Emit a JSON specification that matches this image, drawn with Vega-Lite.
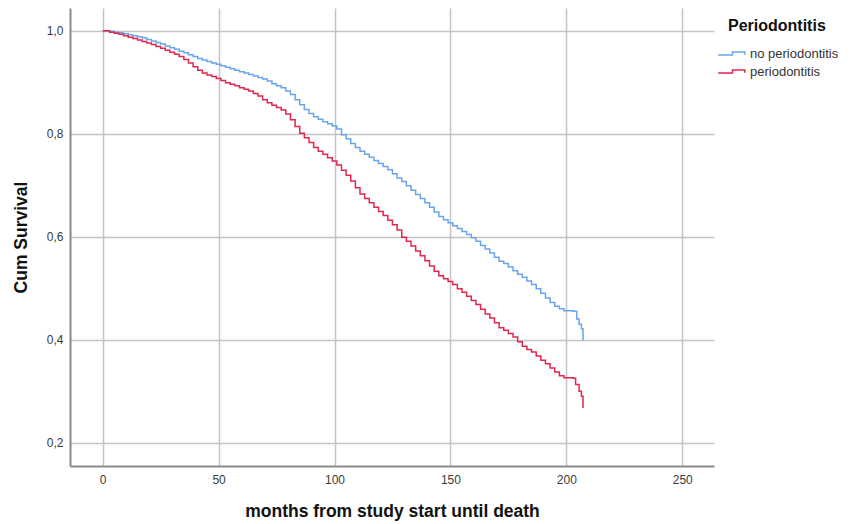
{
  "$schema": "https://vega.github.io/schema/vega-lite/v6.json",
  "width": 644,
  "height": 458,
  "autosize": "none",
  "padding": {"left": 70, "top": 8, "right": 147, "bottom": 58},
  "background": "white",
  "config": {
    "view": {"stroke": null},
    "font": "Liberation Sans"
  },
  "datasets": {
    "km": [
      {"months": 0, "surv": 1.0, "group": "no periodontitis"},
      {"months": 3, "surv": 0.999, "group": "no periodontitis"},
      {"months": 5, "surv": 0.997, "group": "no periodontitis"},
      {"months": 7, "surv": 0.996, "group": "no periodontitis"},
      {"months": 9, "surv": 0.994, "group": "no periodontitis"},
      {"months": 11, "surv": 0.992, "group": "no periodontitis"},
      {"months": 13, "surv": 0.99, "group": "no periodontitis"},
      {"months": 15, "surv": 0.988, "group": "no periodontitis"},
      {"months": 17, "surv": 0.986, "group": "no periodontitis"},
      {"months": 19, "surv": 0.983, "group": "no periodontitis"},
      {"months": 21, "surv": 0.98, "group": "no periodontitis"},
      {"months": 23, "surv": 0.977, "group": "no periodontitis"},
      {"months": 25, "surv": 0.974, "group": "no periodontitis"},
      {"months": 27, "surv": 0.97, "group": "no periodontitis"},
      {"months": 29, "surv": 0.967, "group": "no periodontitis"},
      {"months": 31, "surv": 0.964, "group": "no periodontitis"},
      {"months": 33, "surv": 0.96, "group": "no periodontitis"},
      {"months": 35, "surv": 0.957, "group": "no periodontitis"},
      {"months": 37, "surv": 0.953, "group": "no periodontitis"},
      {"months": 39, "surv": 0.95, "group": "no periodontitis"},
      {"months": 41, "surv": 0.946, "group": "no periodontitis"},
      {"months": 43, "surv": 0.943, "group": "no periodontitis"},
      {"months": 45, "surv": 0.94, "group": "no periodontitis"},
      {"months": 47, "surv": 0.937, "group": "no periodontitis"},
      {"months": 49, "surv": 0.935, "group": "no periodontitis"},
      {"months": 51, "surv": 0.932, "group": "no periodontitis"},
      {"months": 53, "surv": 0.929, "group": "no periodontitis"},
      {"months": 55, "surv": 0.926, "group": "no periodontitis"},
      {"months": 57, "surv": 0.923, "group": "no periodontitis"},
      {"months": 59, "surv": 0.92, "group": "no periodontitis"},
      {"months": 61, "surv": 0.918, "group": "no periodontitis"},
      {"months": 63, "surv": 0.915, "group": "no periodontitis"},
      {"months": 65, "surv": 0.912, "group": "no periodontitis"},
      {"months": 67, "surv": 0.909, "group": "no periodontitis"},
      {"months": 69, "surv": 0.906, "group": "no periodontitis"},
      {"months": 71, "surv": 0.902, "group": "no periodontitis"},
      {"months": 73, "surv": 0.897, "group": "no periodontitis"},
      {"months": 75, "surv": 0.893, "group": "no periodontitis"},
      {"months": 77, "surv": 0.889, "group": "no periodontitis"},
      {"months": 79, "surv": 0.883, "group": "no periodontitis"},
      {"months": 81, "surv": 0.876, "group": "no periodontitis"},
      {"months": 83, "surv": 0.866, "group": "no periodontitis"},
      {"months": 85, "surv": 0.856, "group": "no periodontitis"},
      {"months": 87, "surv": 0.847, "group": "no periodontitis"},
      {"months": 89, "surv": 0.839, "group": "no periodontitis"},
      {"months": 91, "surv": 0.833, "group": "no periodontitis"},
      {"months": 93, "surv": 0.828, "group": "no periodontitis"},
      {"months": 95, "surv": 0.823, "group": "no periodontitis"},
      {"months": 97, "surv": 0.819, "group": "no periodontitis"},
      {"months": 99, "surv": 0.815, "group": "no periodontitis"},
      {"months": 101, "surv": 0.809, "group": "no periodontitis"},
      {"months": 103, "surv": 0.798, "group": "no periodontitis"},
      {"months": 105, "surv": 0.79, "group": "no periodontitis"},
      {"months": 107, "surv": 0.781, "group": "no periodontitis"},
      {"months": 109, "surv": 0.773, "group": "no periodontitis"},
      {"months": 111, "surv": 0.766, "group": "no periodontitis"},
      {"months": 113, "surv": 0.76, "group": "no periodontitis"},
      {"months": 115, "surv": 0.754, "group": "no periodontitis"},
      {"months": 117, "surv": 0.748, "group": "no periodontitis"},
      {"months": 119, "surv": 0.742, "group": "no periodontitis"},
      {"months": 121, "surv": 0.736, "group": "no periodontitis"},
      {"months": 123, "surv": 0.73, "group": "no periodontitis"},
      {"months": 125, "surv": 0.722, "group": "no periodontitis"},
      {"months": 127, "surv": 0.714, "group": "no periodontitis"},
      {"months": 129, "surv": 0.707, "group": "no periodontitis"},
      {"months": 131, "surv": 0.699, "group": "no periodontitis"},
      {"months": 133, "surv": 0.69, "group": "no periodontitis"},
      {"months": 135, "surv": 0.682, "group": "no periodontitis"},
      {"months": 137, "surv": 0.674, "group": "no periodontitis"},
      {"months": 139, "surv": 0.666, "group": "no periodontitis"},
      {"months": 141, "surv": 0.657, "group": "no periodontitis"},
      {"months": 143, "surv": 0.648, "group": "no periodontitis"},
      {"months": 145, "surv": 0.639, "group": "no periodontitis"},
      {"months": 147, "surv": 0.633, "group": "no periodontitis"},
      {"months": 149, "surv": 0.627, "group": "no periodontitis"},
      {"months": 151, "surv": 0.621, "group": "no periodontitis"},
      {"months": 153, "surv": 0.616, "group": "no periodontitis"},
      {"months": 155, "surv": 0.61, "group": "no periodontitis"},
      {"months": 157, "surv": 0.604, "group": "no periodontitis"},
      {"months": 159, "surv": 0.598, "group": "no periodontitis"},
      {"months": 161, "surv": 0.591, "group": "no periodontitis"},
      {"months": 163, "surv": 0.583, "group": "no periodontitis"},
      {"months": 165, "surv": 0.576, "group": "no periodontitis"},
      {"months": 167, "surv": 0.568, "group": "no periodontitis"},
      {"months": 169, "surv": 0.56, "group": "no periodontitis"},
      {"months": 171, "surv": 0.552, "group": "no periodontitis"},
      {"months": 173, "surv": 0.548, "group": "no periodontitis"},
      {"months": 175, "surv": 0.541, "group": "no periodontitis"},
      {"months": 177, "surv": 0.534, "group": "no periodontitis"},
      {"months": 179, "surv": 0.527, "group": "no periodontitis"},
      {"months": 181, "surv": 0.521, "group": "no periodontitis"},
      {"months": 183, "surv": 0.514, "group": "no periodontitis"},
      {"months": 185, "surv": 0.507, "group": "no periodontitis"},
      {"months": 187, "surv": 0.499, "group": "no periodontitis"},
      {"months": 189, "surv": 0.49, "group": "no periodontitis"},
      {"months": 191, "surv": 0.481, "group": "no periodontitis"},
      {"months": 193, "surv": 0.472, "group": "no periodontitis"},
      {"months": 195, "surv": 0.465, "group": "no periodontitis"},
      {"months": 197, "surv": 0.46, "group": "no periodontitis"},
      {"months": 199, "surv": 0.456, "group": "no periodontitis"},
      {"months": 203, "surv": 0.455, "group": "no periodontitis"},
      {"months": 204.5, "surv": 0.44, "group": "no periodontitis"},
      {"months": 205.5, "surv": 0.43, "group": "no periodontitis"},
      {"months": 206.5, "surv": 0.421, "group": "no periodontitis"},
      {"months": 207.2, "surv": 0.399, "group": "no periodontitis"},
      {"months": 0, "surv": 1.0, "group": "periodontitis"},
      {"months": 3, "surv": 0.997, "group": "periodontitis"},
      {"months": 5, "surv": 0.995, "group": "periodontitis"},
      {"months": 7, "surv": 0.993, "group": "periodontitis"},
      {"months": 9, "surv": 0.99, "group": "periodontitis"},
      {"months": 11, "surv": 0.987, "group": "periodontitis"},
      {"months": 13, "surv": 0.985, "group": "periodontitis"},
      {"months": 15, "surv": 0.982, "group": "periodontitis"},
      {"months": 17, "surv": 0.979, "group": "periodontitis"},
      {"months": 19, "surv": 0.976, "group": "periodontitis"},
      {"months": 21, "surv": 0.973, "group": "periodontitis"},
      {"months": 23, "surv": 0.969, "group": "periodontitis"},
      {"months": 25, "surv": 0.966, "group": "periodontitis"},
      {"months": 27, "surv": 0.962, "group": "periodontitis"},
      {"months": 29, "surv": 0.958, "group": "periodontitis"},
      {"months": 31, "surv": 0.954, "group": "periodontitis"},
      {"months": 33, "surv": 0.95, "group": "periodontitis"},
      {"months": 35, "surv": 0.944, "group": "periodontitis"},
      {"months": 37, "surv": 0.937, "group": "periodontitis"},
      {"months": 39, "surv": 0.93, "group": "periodontitis"},
      {"months": 41, "surv": 0.923, "group": "periodontitis"},
      {"months": 43, "surv": 0.918, "group": "periodontitis"},
      {"months": 45, "surv": 0.914, "group": "periodontitis"},
      {"months": 47, "surv": 0.911, "group": "periodontitis"},
      {"months": 49, "surv": 0.907, "group": "periodontitis"},
      {"months": 51, "surv": 0.903, "group": "periodontitis"},
      {"months": 53, "surv": 0.899, "group": "periodontitis"},
      {"months": 55, "surv": 0.896, "group": "periodontitis"},
      {"months": 57, "surv": 0.893, "group": "periodontitis"},
      {"months": 59, "surv": 0.889, "group": "periodontitis"},
      {"months": 61, "surv": 0.886, "group": "periodontitis"},
      {"months": 63, "surv": 0.883, "group": "periodontitis"},
      {"months": 65, "surv": 0.878, "group": "periodontitis"},
      {"months": 67, "surv": 0.873, "group": "periodontitis"},
      {"months": 69, "surv": 0.866, "group": "periodontitis"},
      {"months": 71, "surv": 0.86, "group": "periodontitis"},
      {"months": 73, "surv": 0.855, "group": "periodontitis"},
      {"months": 75, "surv": 0.851, "group": "periodontitis"},
      {"months": 77, "surv": 0.846, "group": "periodontitis"},
      {"months": 79, "surv": 0.838, "group": "periodontitis"},
      {"months": 81, "surv": 0.827, "group": "periodontitis"},
      {"months": 83, "surv": 0.814, "group": "periodontitis"},
      {"months": 85, "surv": 0.801, "group": "periodontitis"},
      {"months": 87, "surv": 0.792, "group": "periodontitis"},
      {"months": 89, "surv": 0.783, "group": "periodontitis"},
      {"months": 91, "surv": 0.773, "group": "periodontitis"},
      {"months": 93, "surv": 0.766, "group": "periodontitis"},
      {"months": 95, "surv": 0.76, "group": "periodontitis"},
      {"months": 97, "surv": 0.753, "group": "periodontitis"},
      {"months": 99, "surv": 0.747, "group": "periodontitis"},
      {"months": 101, "surv": 0.739, "group": "periodontitis"},
      {"months": 103, "surv": 0.729, "group": "periodontitis"},
      {"months": 105, "surv": 0.719, "group": "periodontitis"},
      {"months": 107, "surv": 0.708, "group": "periodontitis"},
      {"months": 109, "surv": 0.695, "group": "periodontitis"},
      {"months": 111, "surv": 0.683, "group": "periodontitis"},
      {"months": 113, "surv": 0.674, "group": "periodontitis"},
      {"months": 115, "surv": 0.666, "group": "periodontitis"},
      {"months": 117, "surv": 0.657, "group": "periodontitis"},
      {"months": 119, "surv": 0.649, "group": "periodontitis"},
      {"months": 121, "surv": 0.641, "group": "periodontitis"},
      {"months": 123, "surv": 0.632, "group": "periodontitis"},
      {"months": 125, "surv": 0.623, "group": "periodontitis"},
      {"months": 127, "surv": 0.613, "group": "periodontitis"},
      {"months": 129, "surv": 0.599, "group": "periodontitis"},
      {"months": 131, "surv": 0.591, "group": "periodontitis"},
      {"months": 133, "surv": 0.582, "group": "periodontitis"},
      {"months": 135, "surv": 0.572, "group": "periodontitis"},
      {"months": 137, "surv": 0.563, "group": "periodontitis"},
      {"months": 139, "surv": 0.553, "group": "periodontitis"},
      {"months": 141, "surv": 0.543, "group": "periodontitis"},
      {"months": 143, "surv": 0.533, "group": "periodontitis"},
      {"months": 145, "surv": 0.524, "group": "periodontitis"},
      {"months": 147, "surv": 0.518, "group": "periodontitis"},
      {"months": 149, "surv": 0.513, "group": "periodontitis"},
      {"months": 151, "surv": 0.507, "group": "periodontitis"},
      {"months": 153, "surv": 0.499, "group": "periodontitis"},
      {"months": 155, "surv": 0.492, "group": "periodontitis"},
      {"months": 157, "surv": 0.484, "group": "periodontitis"},
      {"months": 159, "surv": 0.476, "group": "periodontitis"},
      {"months": 161, "surv": 0.468, "group": "periodontitis"},
      {"months": 163, "surv": 0.459, "group": "periodontitis"},
      {"months": 165, "surv": 0.45, "group": "periodontitis"},
      {"months": 167, "surv": 0.442, "group": "periodontitis"},
      {"months": 169, "surv": 0.433, "group": "periodontitis"},
      {"months": 171, "surv": 0.423, "group": "periodontitis"},
      {"months": 173, "surv": 0.418, "group": "periodontitis"},
      {"months": 175, "surv": 0.412, "group": "periodontitis"},
      {"months": 177, "surv": 0.405, "group": "periodontitis"},
      {"months": 179, "surv": 0.396, "group": "periodontitis"},
      {"months": 181, "surv": 0.387, "group": "periodontitis"},
      {"months": 183, "surv": 0.381, "group": "periodontitis"},
      {"months": 185, "surv": 0.376, "group": "periodontitis"},
      {"months": 187, "surv": 0.368, "group": "periodontitis"},
      {"months": 189, "surv": 0.36, "group": "periodontitis"},
      {"months": 191, "surv": 0.353, "group": "periodontitis"},
      {"months": 193, "surv": 0.345, "group": "periodontitis"},
      {"months": 195, "surv": 0.337, "group": "periodontitis"},
      {"months": 197, "surv": 0.33, "group": "periodontitis"},
      {"months": 199, "surv": 0.326, "group": "periodontitis"},
      {"months": 203, "surv": 0.325, "group": "periodontitis"},
      {"months": 204, "surv": 0.313, "group": "periodontitis"},
      {"months": 205.5, "surv": 0.3, "group": "periodontitis"},
      {"months": 206.5, "surv": 0.29, "group": "periodontitis"},
      {"months": 207.2, "surv": 0.267, "group": "periodontitis"}
    ]
  },
  "data": {"name": "km"},
  "mark": {"type": "line", "interpolate": "step-after", "strokeWidth": 1.5, "clip": true},
  "encoding": {
    "x": {
      "field": "months",
      "type": "quantitative",
      "scale": {"domain": [-14.1, 263.7], "nice": false, "zero": false},
      "axis": {
        "title": "months from study start until death",
        "values": [0, 50, 100, 150, 200, 250],
        "grid": true,
        "gridColor": "#c4c4c4",
        "gridWidth": 1.5,
        "domainColor": "#8a8a8a",
        "domainWidth": 2,
        "ticks": false,
        "labelFont": "Liberation Sans",
        "labelFontSize": 12,
        "labelColor": "#3a3a3a",
        "labelPadding": 8,
        "titleFont": "Liberation Sans",
        "titleFontSize": 17.5,
        "titleFontWeight": "bold",
        "titleColor": "#111111",
        "titlePadding": 17
      }
    },
    "y": {
      "field": "surv",
      "type": "quantitative",
      "scale": {"domain": [0.1546, 1.044], "nice": false, "zero": false},
      "axis": {
        "title": "Cum Survival",
        "values": [0.2, 0.4, 0.6, 0.8, 1.0],
        "labelExpr": "replace(format(datum.value, '.1f'), '.', ',')",
        "grid": true,
        "gridColor": "#c4c4c4",
        "gridWidth": 1.5,
        "domainColor": "#8a8a8a",
        "domainWidth": 2,
        "ticks": false,
        "labelFont": "Liberation Sans",
        "labelFontSize": 12,
        "labelColor": "#3a3a3a",
        "labelPadding": 7,
        "titleFont": "Liberation Sans",
        "titleFontSize": 17.5,
        "titleFontWeight": "bold",
        "titleColor": "#111111",
        "titlePadding": 16
      }
    },
    "color": {
      "field": "group",
      "type": "nominal",
      "scale": {"domain": ["no periodontitis", "periodontitis"], "range": ["#6aa5ea", "#e2274e"]},
      "legend": {
        "title": "Periodontitis",
        "orient": "none",
        "legendX": 651,
        "legendY": 10,
        "titleFont": "Liberation Sans",
        "titleFontSize": 16,
        "titleFontWeight": "bold",
        "titleColor": "#111111",
        "titlePadding": 9,
        "labelFont": "Liberation Sans",
        "labelFontSize": 13,
        "labelColor": "#333333",
        "labelOffset": 8,
        "symbolType": "M-1.4,0.16H0.1V-0.16H1.4V0.14",
        "symbolSize": 361,
        "symbolStrokeWidth": 1.5,
        "symbolFillColor": "transparent",
        "rowPadding": 0,
        "encode": {
          "title": {"update": {"dx": {"value": 7}}}
        }
      }
    }
  }
}
